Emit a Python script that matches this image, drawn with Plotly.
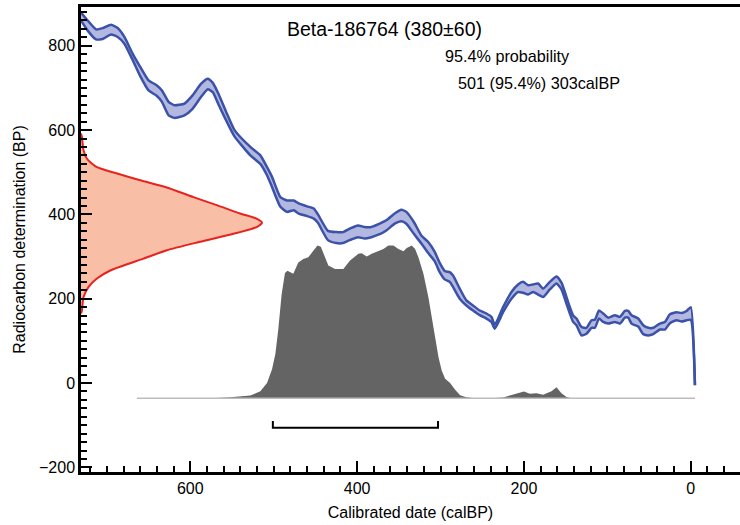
import plotly.graph_objects as go

# ---------------- data ----------------
sample_label = "Beta-186764 (380±60)"
prob_label = "95.4% probability"
range_label = "501 (95.4%) 303calBP"
range_from = 501
range_to = 303

# calibration curve band (calBP, upper BP, lower BP)
curve_cal = [731, 723, 713, 705, 695, 687, 679, 669, 660, 650, 640, 634, 626, 619, 607, 597,
             587, 579, 573, 566, 557, 547, 528, 516, 508, 502, 492, 484, 476, 470, 460, 452,
             447, 435, 425, 417, 409, 399, 391, 383, 373, 365, 355, 347, 341, 332, 323, 315,
             307, 301, 295, 289, 285, 277, 269, 261, 253, 245, 239, 235, 225, 215, 207, 201,
             195, 189, 183, 177, 169, 161, 155, 149, 145, 141, 137, 131, 125, 119, 115, 110,
             105, 99, 91, 85, 79, 75, 71, 63, 57, 51, 45, 37, 31, 25, 17, 11, 5, 0, -5]
curve_upper = [879, 860, 839, 842, 850, 842, 821, 781, 750, 718, 706, 694, 667, 659, 663, 683,
               710, 722, 712, 685, 643, 600, 560, 540, 512, 489, 441, 433, 433, 426, 419, 414,
               400, 361, 358, 358, 366, 374, 370, 370, 378, 386, 402, 411, 406, 382, 350, 335,
               311, 285, 266, 263, 255, 224, 196, 184, 172, 165, 157, 138, 180, 216, 234, 240,
               232, 234, 236, 224, 240, 253, 238, 204, 180, 160, 153, 133, 131, 149, 150, 172,
               165, 155, 161, 157, 171, 171, 161, 153, 137, 131, 131, 141, 145, 163, 168, 166,
               171, 180, -5]
curve_lower = [860, 836, 815, 816, 827, 821, 805, 766, 728, 694, 681, 667, 635, 629, 635, 651,
               679, 697, 690, 660, 623, 585, 540, 520, 493, 465, 418, 406, 410, 402, 396, 390,
               380, 339, 332, 332, 339, 346, 343, 346, 353, 362, 378, 384, 378, 354, 331, 309,
               289, 263, 246, 240, 228, 200, 184, 172, 161, 153, 145, 129, 168, 200, 216, 214,
               210, 216, 210, 204, 222, 236, 222, 188, 165, 145, 137, 113, 117, 131, 131, 153,
               145, 141, 145, 141, 155, 155, 141, 134, 116, 113, 116, 127, 127, 142, 149, 146,
               149, 150, -5]

# radiocarbon measurement distribution (BP, relative probability)
meas_bp = [592, 584, 552, 532, 512, 497, 481, 464, 441, 422, 402, 390, 380, 370, 354, 335,
           315, 295, 267, 248, 228, 204, 172, 165]
meas_prob = [0, 0.005, 0.014, 0.033, 0.088, 0.2, 0.327, 0.474, 0.621, 0.75, 0.879, 0.97, 1.0,
             0.97, 0.842, 0.658, 0.474, 0.345, 0.162, 0.088, 0.042, 0.014, 0.005, 0]

# calibrated date distribution (calBP, relative probability)
post_cal = [664, 600, 570, 552, 540, 528, 516, 508, 502, 498, 494.5, 490.5, 486.5, 483.5, 476.5,
            470.5, 464.5, 458.5, 452.5, 447.5, 443.5, 438.5, 434.5, 426.5, 416.5, 408.5, 398.5,
            394.5, 388.5, 382.5, 374.5, 368.5, 362.5, 356.5, 350.5, 344.5, 340.5, 334.5, 330.5,
            326.5, 320.5, 314.5, 308.5, 302.5, 298.5, 294.5, 288.5, 282.5, 276.5, 270, 262, 240,
            225, 213, 200, 193, 185, 177, 167, 161, 155, 149, 143, 100, -5]
post_prob = [0, 0, 0.002, 0.006, 0.01, 0.018, 0.045, 0.10, 0.19, 0.29, 0.45, 0.68, 0.82, 0.836,
             0.815, 0.89, 0.913, 0.923, 0.967, 1.0, 0.993, 0.923, 0.869, 0.847, 0.847, 0.902,
             0.946, 0.95, 0.928, 0.946, 0.967, 0.978, 1.0, 1.0, 0.978, 0.963, 0.985, 1.0, 0.978,
             0.923, 0.815, 0.66, 0.465, 0.27, 0.18, 0.127, 0.10, 0.055, 0.02, 0.008, 0.002, 0,
             0.005, 0.025, 0.044, 0.03, 0.033, 0.022, 0.046, 0.072, 0.033, 0.008, 0, 0, 0]

# ---------------- layout constants ----------------
X_RANGE = [731, -59]
Y_RANGE = [-211, 892]
MEAS_X0 = 731      # measurement curve drawn from left axis
MEAS_W = 217       # its peak width in calBP units
POST_BASE = -36    # baseline of calibrated distribution
POST_H = 362       # its peak height in BP units
BRACKET_Y = -106
BRACKET_TICK = 16

FONT = "Liberation Sans, Arial, sans-serif"
BLUE = "#3b52a8"
BLUE_FILL = "#b3b8e0"

fig = go.Figure()

# calibrated distribution
post_y = [POST_BASE + p * POST_H for p in post_prob]
fig.add_trace(go.Scatter(
    x=[post_cal[0]] + post_cal + [post_cal[-1]],
    y=[POST_BASE] + post_y + [POST_BASE],
    fill="toself", fillcolor="#646464", mode="lines", line=dict(width=0, color="#646464"),
    hoverinfo="skip", showlegend=False))
fig.add_trace(go.Scatter(
    x=[post_cal[0], post_cal[-1]], y=[POST_BASE, POST_BASE], mode="lines",
    line=dict(color="#bdbdbd", width=1.5), hoverinfo="skip", showlegend=False))

# measurement distribution
meas_x = [MEAS_X0 - p * MEAS_W for p in meas_prob]
fig.add_trace(go.Scatter(
    x=meas_x, y=meas_bp, fill="toself", fillcolor="#f8bfa6", mode="lines",
    line=dict(width=0, color="#f8bfa6", shape="spline", smoothing=0.6),
    hoverinfo="skip", showlegend=False))
fig.add_trace(go.Scatter(
    x=meas_x, y=meas_bp, mode="lines",
    line=dict(color="#e8231d", width=2, shape="spline", smoothing=0.6),
    hoverinfo="skip", showlegend=False))

# calibration curve band
fig.add_trace(go.Scatter(
    x=curve_cal, y=curve_lower, mode="lines",
    line=dict(color=BLUE, width=2.5, shape="spline", smoothing=0.5),
    hoverinfo="skip", showlegend=False))
fig.add_trace(go.Scatter(
    x=curve_cal, y=curve_upper, mode="lines", fill="tonexty", fillcolor=BLUE_FILL,
    line=dict(color=BLUE, width=2.5, shape="spline", smoothing=0.5),
    hoverinfo="skip", showlegend=False))

# range bracket
fig.add_trace(go.Scatter(
    x=[range_from, range_from, range_to, range_to],
    y=[BRACKET_Y + BRACKET_TICK, BRACKET_Y, BRACKET_Y, BRACKET_Y + BRACKET_TICK],
    mode="lines", line=dict(color="black", width=2), hoverinfo="skip", showlegend=False))

axis_common = dict(
    showgrid=False, zeroline=False, showline=True, linecolor="black", linewidth=2.5,
    ticks="inside", ticklen=11, tickwidth=2, tickcolor="black",
    tickfont=dict(family=FONT, size=16, color="black"),
    minor=dict(ticks="inside", ticklen=6, tickwidth=1.5, tickcolor="black", dtick=20, tick0=0),
)

fig.update_layout(
    width=740, height=525,
    margin=dict(l=81, r=0, t=7, b=53),
    paper_bgcolor="white", plot_bgcolor="white",
    font=dict(family=FONT, color="black"),
    xaxis=dict(range=X_RANGE, dtick=200, tick0=0, mirror=True,
               title=dict(text="Calibrated date (calBP)", font=dict(family=FONT, size=16),
                          standoff=11),
               **axis_common),
    yaxis=dict(range=Y_RANGE, dtick=200, tick0=0,
               title=dict(text="Radiocarbon determination (BP)", font=dict(family=FONT, size=16),
                          standoff=10),
               **axis_common),
    annotations=[
        dict(text=sample_label, xref="paper", yref="paper", x=0.461, y=0.953,
             xanchor="center", yanchor="middle", showarrow=False,
             font=dict(family=FONT, size=19.5, color="black")),
        dict(text=prob_label, xref="paper", yref="paper", x=0.549, y=0.895,
             xanchor="left", yanchor="middle", showarrow=False,
             font=dict(family=FONT, size=16.2, color="black")),
        dict(text=range_label, xref="paper", yref="paper", x=0.569, y=0.837,
             xanchor="left", yanchor="middle", showarrow=False,
             font=dict(family=FONT, size=16.2, color="black")),
    ],
)

fig.write_html("out.html")
